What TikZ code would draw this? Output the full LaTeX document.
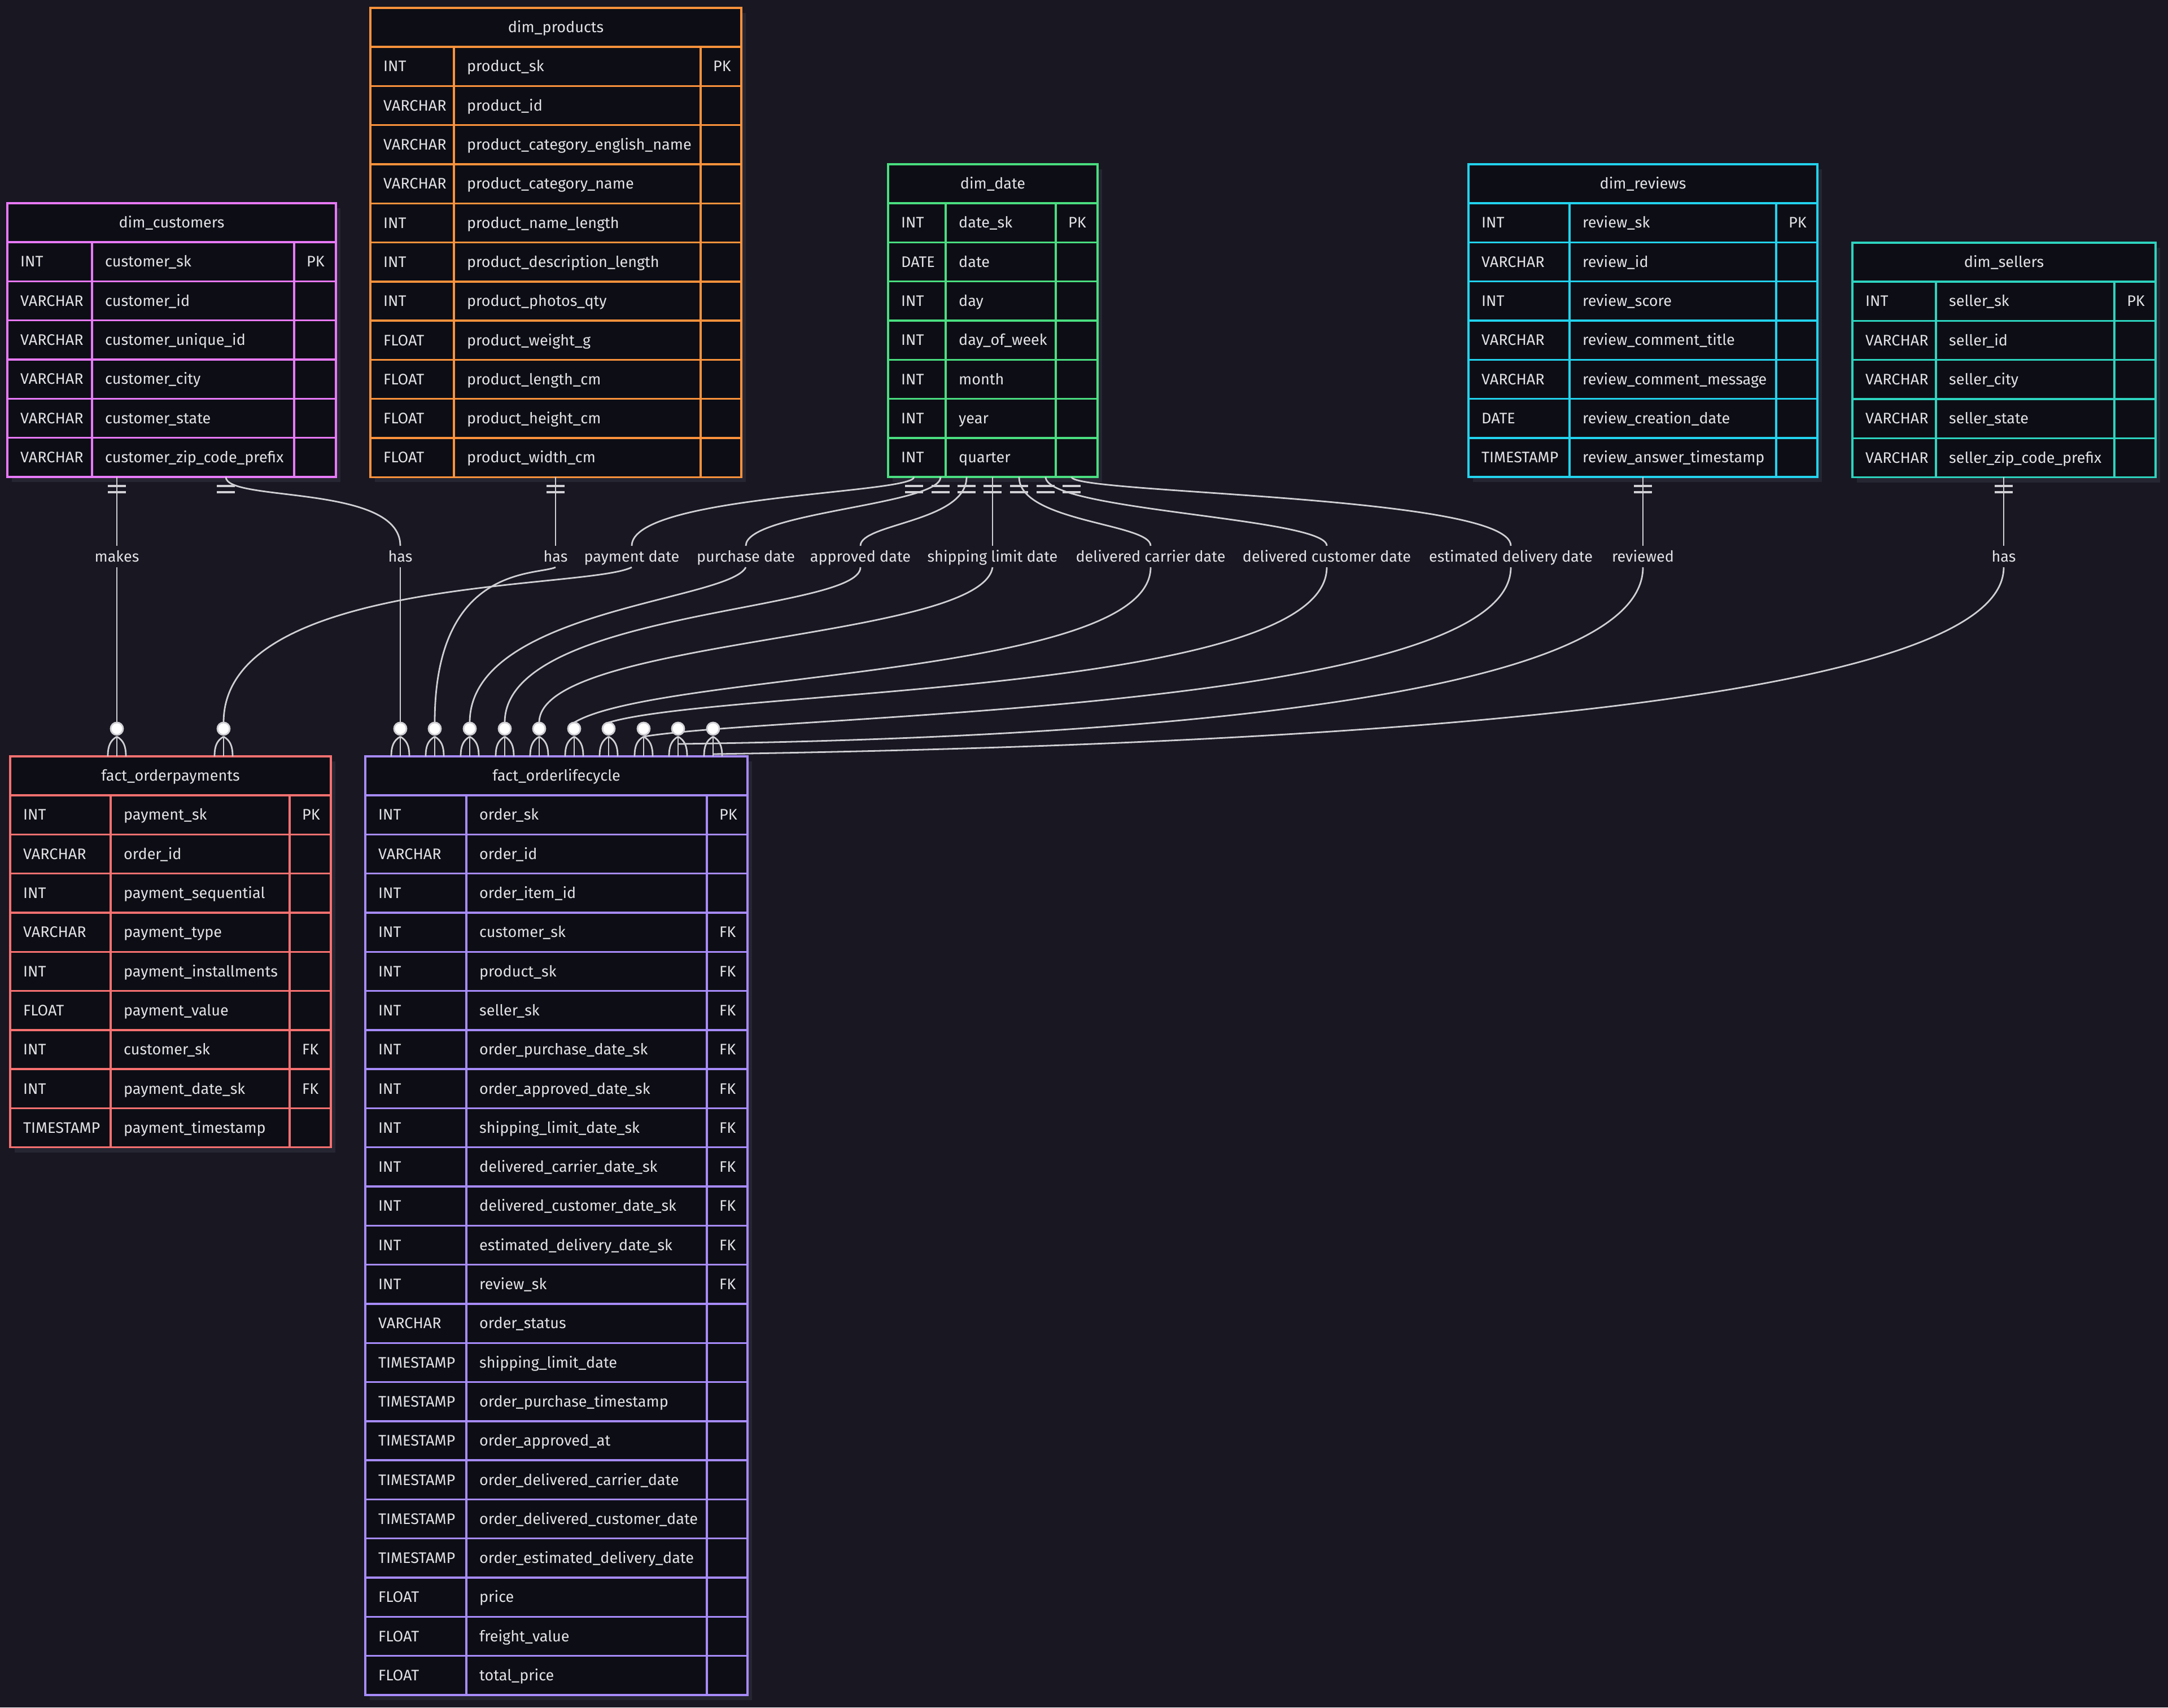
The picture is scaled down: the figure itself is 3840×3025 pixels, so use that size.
\documentclass[tikz,border=0pt]{standalone}
\usepackage{fontspec}
\setmainfont{Fira Sans}
\usepackage{tikz}
\usetikzlibrary{calc}
\definecolor{bgc}{HTML}{181722}
\definecolor{cellc}{HTML}{0D0E15}
\definecolor{shadowc}{HTML}{262532}
\definecolor{txtc}{HTML}{E2E2E6}
\definecolor{linkc}{HTML}{D0D0D4}
\definecolor{custc}{HTML}{E879F9}
\definecolor{prodc}{HTML}{FB923C}
\definecolor{datec}{HTML}{4ADE80}
\definecolor{revc}{HTML}{22D3EE}
\definecolor{sellc}{HTML}{2DD4BF}
\definecolor{payc}{HTML}{F87171}
\definecolor{lifec}{HTML}{A78BFA}

% name, colour, x left, x col2, x col3, x right, y top, title, rows
\newcommand{\ertable}[9]{%
  \foreach \ty/\fn/\ky [count=\i] in {#9} {\xdef\nrows{\i}}
  \pgfmathsetmacro{\ybot}{#7+69+\nrows*69.3}
  \fill[shadowc] (#3+8,-#7-9) rectangle (#6+8,-\ybot-9);
  \fill[cellc] (#3,-#7) rectangle (#6,-\ybot);
  \node[cell] (#1) at ({(#3+#6)/2},-#7-34.5) {#8};
  \foreach \ty/\fn/\ky [count=\i] in {#9} {
    \pgfmathsetmacro{\yc}{#7+69+(\i-0.5)*69.3}
    \pgfmathsetmacro{\yl}{#7+69+\i*69.3}
    \node[cell,anchor=west] (#1-t\i) at (#3+23,-\yc) {\ty};
    \node[cell,anchor=west] (#1-n\i) at (#4+23,-\yc) {\fn};
    \node[cell,anchor=west] (#1-k\i) at (#5+22,-\yc) {\ky};
    \draw[#2,line width=3.4pt] (#3,-\yl) -- (#6,-\yl);
  }
  \draw[#2,line width=3.4pt] (#4,-#7-69) -- (#4,-\ybot) (#5,-#7-69) -- (#5,-\ybot);
  \draw[#2,line width=3.4pt] (#3,-#7-69) -- (#6,-#7-69);
  \draw[#2,line width=3.4pt] (#3,-#7) rectangle (#6,-\ybot);
}

\begin{document}
\begin{tikzpicture}[x=1pt,y=1pt,
    cell/.style={inner sep=0pt, text=txtc, text height=18.6pt, text depth=0pt,
      font=\fontsize{27pt}{32pt}\selectfont},
    lbl/.style={fill=bgc, inner xsep=4pt, inner ysep=9.5pt, text=txtc,
      text height=18.6pt, text depth=0pt, font=\fontsize{27pt}{32pt}\selectfont},
    link/.style={draw=linkc, line width=2.8pt},
    tick/.style={draw=linkc, line width=3.2pt},
    ring/.style={draw=linkc, fill=white, line width=2.8pt}]

    % canvas
    \fill[bgc] (0,0) rectangle (3840,-3025);
    \useasboundingbox (0,0) rectangle (3840,-3025);

    % dimension tables
    \ertable{cust}{custc}{13}{163}{521}{595}{360}{dim\_customers}{
        INT/customer\_sk/PK, VARCHAR/customer\_id/{}, VARCHAR/customer\_unique\_id/{},
        VARCHAR/customer\_city/{}, VARCHAR/customer\_state/{}, VARCHAR/customer\_zip\_code\_prefix/{}}
    \ertable{prod}{prodc}{656}{804}{1241}{1313}{14}{dim\_products}{
        INT/product\_sk/PK, VARCHAR/product\_id/{}, VARCHAR/product\_category\_english\_name/{},
        VARCHAR/product\_category\_name/{}, INT/product\_name\_length/{},
        INT/product\_description\_length/{}, INT/product\_photos\_qty/{},
        FLOAT/product\_weight\_g/{}, FLOAT/product\_length\_cm/{},
        FLOAT/product\_height\_cm/{}, FLOAT/product\_width\_cm/{}}
    \ertable{date}{datec}{1573}{1675}{1870}{1944}{291}{dim\_date}{
        INT/date\_sk/PK, DATE/date/{}, INT/day/{}, INT/day\_of\_week/{},
        INT/month/{}, INT/year/{}, INT/quarter/{}}
    \ertable{rev}{revc}{2601}{2780}{3146}{3219}{291}{dim\_reviews}{
        INT/review\_sk/PK, VARCHAR/review\_id/{}, INT/review\_score/{},
        VARCHAR/review\_comment\_title/{}, VARCHAR/review\_comment\_message/{},
        DATE/review\_creation\_date/{}, TIMESTAMP/review\_answer\_timestamp/{}}
    \ertable{sell}{sellc}{3281}{3429}{3745}{3818}{430}{dim\_sellers}{
        INT/seller\_sk/PK, VARCHAR/seller\_id/{}, VARCHAR/seller\_city/{},
        VARCHAR/seller\_state/{}, VARCHAR/seller\_zip\_code\_prefix/{}}

    % fact tables
    \ertable{pay}{payc}{18}{196}{513}{586}{1340}{fact\_orderpayments}{
        INT/payment\_sk/PK, VARCHAR/order\_id/{}, INT/payment\_sequential/{},
        VARCHAR/payment\_type/{}, INT/payment\_installments/{}, FLOAT/payment\_value/{},
        INT/customer\_sk/FK, INT/payment\_date\_sk/FK, TIMESTAMP/payment\_timestamp/{}}
    \ertable{life}{lifec}{647}{826}{1252}{1324}{1340}{fact\_orderlifecycle}{
        INT/order\_sk/PK, VARCHAR/order\_id/{}, INT/order\_item\_id/{},
        INT/customer\_sk/FK, INT/product\_sk/FK, INT/seller\_sk/FK,
        INT/order\_purchase\_date\_sk/FK, INT/order\_approved\_date\_sk/FK,
        INT/shipping\_limit\_date\_sk/FK, INT/delivered\_carrier\_date\_sk/FK,
        INT/delivered\_customer\_date\_sk/FK, INT/estimated\_delivery\_date\_sk/FK,
        INT/review\_sk/FK, VARCHAR/order\_status/{}, TIMESTAMP/shipping\_limit\_date/{},
        TIMESTAMP/order\_purchase\_timestamp/{}, TIMESTAMP/order\_approved\_at/{},
        TIMESTAMP/order\_delivered\_carrier\_date/{}, TIMESTAMP/order\_delivered\_customer\_date/{},
        TIMESTAMP/order\_estimated\_delivery\_date/{}, FLOAT/price/{},
        FLOAT/freight\_value/{}, FLOAT/total\_price/{}}

    % line ends on the dimensions
    \coordinate (cust-a) at (207,-845);
    \coordinate (cust-b) at (400,-845);
    \coordinate (prod-a) at (984,-845);
    \foreach \i/\x in {1/1619,2/1666,3/1712,4/1758,5/1805,6/1852,7/1898}
        \coordinate (date-\i) at (\x,-845);
    \coordinate (rev-a) at (2910,-845);
    \coordinate (sell-a) at (3549,-845);

    % line ends on the facts
    \coordinate (pay-1) at (207,-1340);
    \coordinate (pay-2) at (396,-1340);
    \foreach \i/\x in {1/709,2/770,3/832,4/894,5/955,6/1017,7/1078,8/1140,9/1201,10/1263}
        \coordinate (life-\i) at (\x,-1340);

    % labels
    \node[lbl] (lb-makes) at (207,-986) {makes};
    \node[lbl] (lb-chas) at (709,-986) {has};
    \node[lbl] (lb-phas) at (984,-986) {has};
    \node[lbl] (lb-pay) at (1119,-986) {payment date};
    \node[lbl] (lb-pur) at (1321,-986) {purchase date};
    \node[lbl] (lb-appr) at (1524,-986) {approved date};
    \node[lbl] (lb-ship) at (1758,-986) {shipping limit date};
    \node[lbl] (lb-carr) at (2038,-986) {delivered carrier date};
    \node[lbl] (lb-cust) at (2350,-986) {delivered customer date};
    \node[lbl] (lb-est) at (2676,-986) {estimated delivery date};
    \node[lbl] (lb-rev) at (2910,-986) {reviewed};
    \node[lbl] (lb-shas) at (3549,-986) {has};

    % relationships
    \draw[link] (cust-a) -- (lb-makes.north);
    \draw[link] (lb-makes.south) -- ([yshift=60pt]pay-1);
    \draw[link] (cust-b) .. controls +(0,-45) and +(0,110) .. (lb-chas.north);
    \draw[link] (lb-chas.south) -- ([yshift=60pt]life-1);
    \draw[link] (prod-a) -- (lb-phas.north);
    \draw[link] (lb-phas.south) .. controls +(-34,-15) and +(0,280) .. ([yshift=60pt]life-2);
    \draw[link] (date-1) .. controls +(0,-30) and +(0,90) .. (lb-pay.north);
    \draw[link] (lb-pay.south) .. controls +(-80,-40) and +(0,260) .. ([yshift=60pt]pay-2);
    \draw[link] (date-2) .. controls +(0,-50) and +(0,60) .. (lb-pur.north);
    \draw[link] (lb-pur.south) .. controls +(-30,-60) and +(0,200) .. ([yshift=60pt]life-3);
    \draw[link] (date-3) .. controls +(0,-80) and +(0,40) .. (lb-appr.north);
    \draw[link] (lb-appr.south) .. controls +(0,-80) and +(0,200) .. ([yshift=60pt]life-4);
    \draw[link] (date-4) -- (lb-ship.north);
    \draw[link] (lb-ship.south) .. controls +(-20,-130) and +(0,150) .. ([yshift=60pt]life-5);
    \draw[link] (date-5) .. controls +(0,-80) and +(0,40) .. (lb-carr.north);
    \draw[link] (lb-carr.south) .. controls +(0,-195) and +(150,90) .. ([yshift=60pt]life-6);
    \draw[link] (date-6) .. controls +(0,-60) and +(0,50) .. (lb-cust.north);
    \draw[link] (lb-cust.south) .. controls +(0,-225) and +(200,60) .. ([yshift=60pt]life-7);
    \draw[link] (date-7) .. controls +(0,-30) and +(0,90) .. (lb-est.north);
    \draw[link] (lb-est.south) .. controls +(0,-255) and +(240,40) .. ([yshift=35pt]life-8);
    \draw[link] (rev-a) -- (lb-rev.north);
    \draw[link] (lb-rev.south) .. controls +(0,-220) and +(900,12) .. ([yshift=22pt]life-9);
    \draw[link] (sell-a) -- (lb-shas.north);
    \draw[link] (lb-shas.south) .. controls +(0,-250) and +(1037,16) .. ([yshift=4pt]life-10);

    % exactly one
    \foreach \c in {cust-a,cust-b,prod-a,date-1,date-2,date-3,date-4,date-5,date-6,date-7,rev-a,sell-a} {
        \draw[tick] ([xshift=-16pt,yshift=-16pt]\c) -- ([xshift=16pt,yshift=-16pt]\c);
        \draw[tick] ([xshift=-16pt,yshift=-27pt]\c) -- ([xshift=16pt,yshift=-27pt]\c);
    }

    % zero or many
    \foreach \c in {pay-1,pay-2,life-1,life-2,life-3,life-4,life-5,life-6,life-7,life-8,life-9,life-10} {
        \draw[link] ([yshift=35pt]\c) -- (\c);
        \draw[link] ([yshift=35pt]\c) .. controls +(-12,-7) and +(0,18) .. ([xshift=-16pt]\c);
        \draw[link] ([yshift=35pt]\c) .. controls +(12,-7) and +(0,18) .. ([xshift=16pt]\c);
        \draw[ring] ([yshift=49pt]\c) circle (11pt);
    }
\end{tikzpicture}
\end{document}
